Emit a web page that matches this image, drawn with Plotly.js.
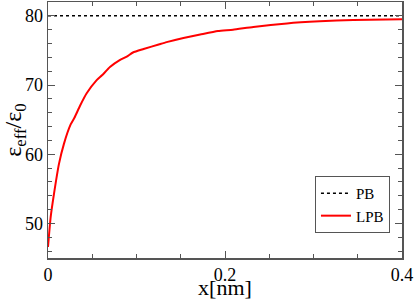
<!DOCTYPE html>
<html><head><meta charset="utf-8">
<script src="https://cdn.plot.ly/plotly-3.0.1.min.js"></script>
<style>
body{margin:0}
#c{width:415px;height:300px}
#c svg text{font-family:'Liberation Serif','Times New Roman',Times,serif !important;}
</style>
</head><body><div id="c"></div>
<script>
var pbX = [0, 0.4];
var pbY = [80, 80];
var lpbX = [0, 0.003, 0.0068, 0.0124, 0.018, 0.0256, 0.030, 0.0362, 0.0437, 0.055, 0.061, 0.070, 0.081, 0.089, 0.096, 0.108, 0.126, 0.134, 0.153, 0.172, 0.192, 0.209, 0.232, 0.270, 0.307, 0.345, 0.4];
var lpbY = [46.6, 50.9, 54.3, 58.6, 61.5, 64.3, 65.3, 67.0, 68.8, 70.7, 71.4, 72.6, 73.6, 74.1, 74.7, 75.2, 75.9, 76.2, 76.8, 77.3, 77.8, 78.0, 78.4, 78.9, 79.2, 79.4, 79.5];
var xTicks = [0, 0.2, 0.4];
var xTickText = ['0', '0.2', '0.4'];
var yTicks = [50, 60, 70, 80];

var serifFam = 'Liberation Serif';
var traces = [
  {x: pbX, y: pbY, mode: 'lines', name: 'PB', line: {color: '#000', width: 1.5, dash: 'dot'}},
  {x: lpbX, y: lpbY, mode: 'lines', name: 'LPB', line: {color: '#ff0000', width: 2, shape: 'spline', smoothing: 0.5}}
];
function axisCommon() {
  return {
    showline: true, linecolor: '#555', linewidth: 1.5, mirror: 'ticks',
    ticks: 'inside', ticklen: 7, tickcolor: '#555', tickwidth: 1,
    showgrid: false, zeroline: false,
    tickfont: {family: serifFam, size: 18, color: '#000'}
  };
}
var layout = {
  width: 415, height: 300,
  margin: {l: 48, r: 13, t: 2, b: 42},
  paper_bgcolor: '#fff', plot_bgcolor: '#fff',
  showlegend: true,
  font: {family: serifFam},
  xaxis: Object.assign(axisCommon(), {
    range: [0, 0.4], tickvals: xTicks, ticktext: xTickText,
    minor: {dtick: 0.05, ticks: 'inside', ticklen: 4, tickcolor: '#555'},
    title: {text: 'x[nm]', font: {family: serifFam, size: 22, color: '#000'}, standoff: 0}
  }),
  yaxis: Object.assign(axisCommon(), {
    range: [45, 82], tickvals: yTicks,
    minor: {dtick: 2, ticks: 'inside', ticklen: 4, tickcolor: '#555'},
    title: {text: 'ε<sub>eff</sub>/ε<sub>0</sub>', font: {family: serifFam, size: 24, color: '#000'}, standoff: 4}
  }),
  legend: {
    x: 0.966, y: 0.098, xanchor: 'right', yanchor: 'bottom',
    bgcolor: '#fff', bordercolor: '#555', borderwidth: 1,
    font: {family: serifFam, size: 15, color: '#000'},
    tracegroupgap: 0, itemwidth: 30
  }
};
Plotly.newPlot('c', traces, layout, {displayModeBar: false, staticPlot: true});
</script></body></html>
